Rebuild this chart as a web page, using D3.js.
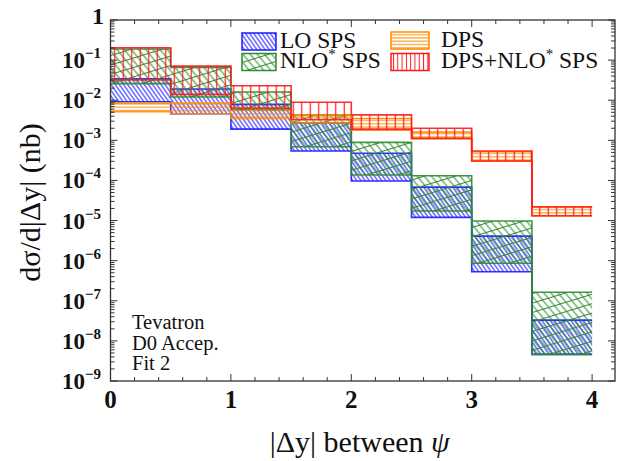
<!DOCTYPE html>
<html>
<head>
<meta charset="utf-8">
<script src="https://cdn.jsdelivr.net/npm/d3@7"></script>
<style>
  body { margin: 0; background: #fff; }
  text { font-family: "Liberation Serif", "DejaVu Serif", serif; }
</style>
</head>
<body>
<div id="chart"></div>
<script>
// bins in |dy|
const binEdges = [0, 0.5, 1, 1.5, 2, 2.5, 3, 3.5, 4];

// LO SPS band
const loLow  = [9.2e-3, 4.6e-3, 1.9e-3, 5.4e-4, 9.7e-5, 1.2e-5, 5.3e-7, 4.6e-9];
const loHigh = [3.4e-2, 1.9e-2, 7.9e-3, 2.7e-3, 4.75e-4, 6.8e-5, 4.1e-6, 3.3e-8];
// NLO* SPS band
const nloLow  = [2.6e-2, 1.2e-2, 5.7e-3, 6.9e-4, 1.37e-4, 1.73e-5, 8.6e-7, 4.6e-9];
const nloHigh = [1.9e-1, 6.6e-2, 1.6e-2, 4.3e-3, 8.9e-4, 1.31e-4, 9.75e-6, 1.63e-7];
// DPS band
const dpsLow  = [5.2e-3, 4.6e-3, 3.5e-3, 2.7e-3, 1.8e-3, 1.1e-3, 3.0e-4, 1.3e-5];
const dpsHigh = [8.4e-3, 8.5e-3, 6.4e-3, 4.3e-3, 3.5e-3, 1.6e-3, 5.2e-4, 2.15e-5];
// DPS+NLO* SPS band
const sumLow  = [3.2e-2, 1.4e-2, 6.3e-3, 3.3e-3, 1.9e-3, 1.12e-3, 3.05e-4, 1.32e-5];
const sumHigh = [2.04e-1, 7.1e-2, 2.3e-2, 8.9e-3, 4.3e-3, 2.0e-3, 5.4e-4, 2.2e-5];

const xTickLabels = ['0', '1', '2', '3', '4'];
const yDecades = [0, -1, -2, -3, -4, -5, -6, -7, -8, -9];
const infoLines = ['Tevatron', 'D0 Accep.', 'Fit 2'];

const W = 625, H = 461;
const pLeft = 110.5, pRight = 615, pTop = 20, pBottom = 381;

const svg = d3.select('#chart').append('svg').attr('width', W).attr('height', H);
const defs = svg.append('defs');

const x = d3.scaleLinear().domain([0, 4.19]).range([pLeft, pRight]);
const y = d3.scaleLog().domain([1e-9, 1]).range([pBottom, pTop]);

// hatch patterns: vertical lines, rotated
function hatch(id, color, spacing, angle, sw) {
  const p = defs.append('pattern')
    .attr('id', id)
    .attr('patternUnits', 'userSpaceOnUse')
    .attr('width', spacing).attr('height', 20)
    .attr('patternTransform', `rotate(${angle})`);
  p.append('line')
    .attr('x1', spacing / 2).attr('x2', spacing / 2)
    .attr('y1', 0).attr('y2', 20)
    .attr('stroke', color).attr('stroke-width', sw);
}
const blue = '#1a1aff', green = '#2e8b2e', orange = '#ff8c00', red = '#ff1a1a';
hatch('pLo', blue, 3.4, -35, 1);
hatch('pNlo1', green, 5.5, -40, 1);
hatch('pNlo2', green, 9, 73, 1);
hatch('pDps', orange, 3.3, 90, 1);
hatch('pSum', red, 8.5, 0, 1.2);
hatch('pSumLeg', red, 4.3, 0, 1);

defs.append('clipPath').attr('id', 'clip')
  .append('rect').attr('x', pLeft).attr('y', pTop)
  .attr('width', pRight - pLeft).attr('height', pBottom - pTop);

const bands = [
  { low: loLow, high: loHigh, color: blue, pats: ['pLo'] },
  { low: nloLow, high: nloHigh, color: green, pats: ['pNlo1', 'pNlo2'] },
  { low: dpsLow, high: dpsHigh, color: orange, pats: ['pDps'] },
  { low: sumLow, high: sumHigh, color: red, pats: ['pSum'] }
];

const plot = svg.append('g').attr('clip-path', 'url(#clip)');

const step = d3.line()
  .x(d => x(d[0]))
  .y(d => y(d[1]))
  .curve(d3.curveStepAfter);

bands.forEach(b => {
  const g = plot.append('g');
  b.pats.forEach(pid => {
    g.selectAll(null)
      .data(b.low.map((v, i) => i))
      .join('rect')
      .attr('x', i => x(binEdges[i]))
      .attr('width', i => x(binEdges[i + 1]) - x(binEdges[i]))
      .attr('y', i => y(b.high[i]))
      .attr('height', i => y(b.low[i]) - y(b.high[i]))
      .attr('fill', `url(#${pid})`);
  });
  [b.low, b.high].forEach(vals => {
    const pts = binEdges.map((e, i) => [e, vals[Math.min(i, vals.length - 1)]]);
    g.append('path')
      .attr('d', step(pts))
      .attr('fill', 'none')
      .attr('stroke', b.color)
      .attr('stroke-width', 1.6)
      .attr('stroke-opacity', 0.9);
  });
});

// frame
const axisColor = '#333';
svg.append('rect')
  .attr('x', pLeft).attr('y', pTop)
  .attr('width', pRight - pLeft).attr('height', pBottom - pTop)
  .attr('fill', 'none').attr('stroke', axisColor).attr('stroke-width', 1.3);

// x ticks (bottom and top, inward)
const xt = svg.append('g').attr('stroke', axisColor).attr('stroke-width', 1);
d3.range(0, 21).forEach(k => {
  const v = k * 0.2;
  const major = k % 5 === 0;
  const len = major ? 7 : 4;
  const px = x(v);
  xt.append('line').attr('x1', px).attr('x2', px).attr('y1', pBottom).attr('y2', pBottom - len);
  xt.append('line').attr('x1', px).attr('x2', px).attr('y1', pTop).attr('y2', pTop + len);
});
svg.append('g').selectAll('text')
  .data(xTickLabels)
  .join('text')
  .attr('x', (d, i) => x(i))
  .attr('y', 408)
  .attr('text-anchor', 'middle')
  .attr('font-weight', 'bold')
  .attr('font-size', 25)
  .attr('fill', '#111')
  .text(d => d);

// y ticks (left and right, inward)
const yt = svg.append('g').attr('stroke', axisColor).attr('stroke-width', 1);
y.ticks().forEach(v => {
  const m = Math.round(v / Math.pow(10, Math.floor(Math.log10(v) + 1e-9)));
  const major = m === 1;
  const len = major ? 7 : 4;
  const py = y(v);
  yt.append('line').attr('x1', pLeft).attr('x2', pLeft + len).attr('y1', py).attr('y2', py);
  yt.append('line').attr('x1', pRight).attr('x2', pRight - len).attr('y1', py).attr('y2', py);
});
const yl = svg.append('g').attr('font-weight', 'bold').attr('fill', '#111');
yDecades.forEach(e => {
  const py = y(Math.pow(10, e));
  if (e === 0) {
    yl.append('text').attr('x', 104).attr('y', py + 4).attr('text-anchor', 'end')
      .attr('font-size', 24).text('1');
  } else {
    const t = yl.append('text').attr('x', 101).attr('y', py + 8).attr('text-anchor', 'end')
      .attr('font-size', 23);
    t.append('tspan').text('10');
    t.append('tspan').attr('dy', -10).attr('font-size', 15).text('\u2212' + (-e));
  }
});

// axis titles
svg.append('text')
  .attr('transform', `translate(40,${(pTop + pBottom) / 2 + 2}) rotate(-90)`)
  .attr('text-anchor', 'middle')
  .attr('font-size', 30)
  .attr('fill', '#111')
  .text('d\u03c3/d|\u0394y| (nb)');

const xTitle = svg.append('text')
  .attr('x', (pLeft + pRight) / 2 - 3)
  .attr('y', 452)
  .attr('text-anchor', 'middle')
  .attr('font-size', 30)
  .attr('fill', '#111');
xTitle.append('tspan').text('|\u0394y| between ');
xTitle.append('tspan').attr('font-style', 'italic').text('\u03c8');

// info text
svg.append('g').selectAll('text')
  .data(infoLines)
  .join('text')
  .attr('x', 132)
  .attr('y', (d, i) => 329 + i * 20.7)
  .attr('font-size', 20.5)
  .attr('fill', '#111')
  .text(d => d);

// legend
const legend = [
  { label: 'LO SPS', pats: ['pLo'], color: blue, x: 242, y: 33, w: 34 },
  { label: 'NLO* SPS', pats: ['pNlo1', 'pNlo2'], color: green, x: 242, y: 53.5, w: 34 },
  { label: 'DPS', pats: ['pDps'], color: orange, x: 391, y: 32, w: 38 },
  { label: 'DPS+NLO* SPS', pats: ['pSumLeg'], color: red, x: 391, y: 53.5, w: 38 }
];
const lg = svg.append('g');
legend.forEach(l => {
  l.pats.forEach(pid => {
    lg.append('rect').attr('x', l.x).attr('y', l.y).attr('width', l.w).attr('height', 17)
      .attr('fill', `url(#${pid})`);
  });
  lg.append('rect').attr('x', l.x).attr('y', l.y).attr('width', l.w).attr('height', 17)
    .attr('fill', 'none').attr('stroke', l.color).attr('stroke-width', 1.5);
  const t = lg.append('text')
    .attr('x', l.x + l.w + (l.x < 300 ? 4 : 12))
    .attr('y', l.y + 14.5)
    .attr('font-size', 23.5)
    .attr('fill', '#111');
  const parts = l.label.split('*');
  t.append('tspan').text(parts[0]);
  if (parts.length > 1) {
    t.append('tspan').attr('dy', -9).attr('font-size', 15).text('*');
    t.append('tspan').attr('dy', 9).text(parts[1]);
  }
});
</script>
</body>
</html>
